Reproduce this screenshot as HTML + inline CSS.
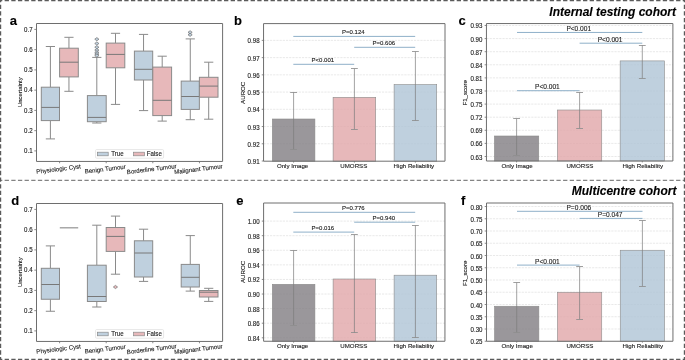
<!DOCTYPE html>
<html><head><meta charset="utf-8"><style>
html,body{margin:0;padding:0;background:#fff;}
svg{display:block;font-family:"Liberation Sans", sans-serif;will-change:transform;}
</style></head><body>
<svg width="685" height="360" viewBox="0 0 685 360">
<rect width="685" height="360" fill="#fff"/>
<line x1="34.30" y1="150.90" x2="36.50" y2="150.90" stroke="#6e6e6e" stroke-width="0.8"/>
<text x="0.00" y="0.00" font-size="6.15" text-anchor="end" font-weight="normal" font-style="normal" fill="#1c1c1c" stroke="#1c1c1c" stroke-width="0.12" transform="translate(32.60,153.00) scale(1,1.12)">0.1</text>
<line x1="34.30" y1="130.65" x2="36.50" y2="130.65" stroke="#6e6e6e" stroke-width="0.8"/>
<text x="0.00" y="0.00" font-size="6.15" text-anchor="end" font-weight="normal" font-style="normal" fill="#1c1c1c" stroke="#1c1c1c" stroke-width="0.12" transform="translate(32.60,132.75) scale(1,1.12)">0.2</text>
<line x1="34.30" y1="110.40" x2="36.50" y2="110.40" stroke="#6e6e6e" stroke-width="0.8"/>
<text x="0.00" y="0.00" font-size="6.15" text-anchor="end" font-weight="normal" font-style="normal" fill="#1c1c1c" stroke="#1c1c1c" stroke-width="0.12" transform="translate(32.60,112.50) scale(1,1.12)">0.3</text>
<line x1="34.30" y1="90.15" x2="36.50" y2="90.15" stroke="#6e6e6e" stroke-width="0.8"/>
<text x="0.00" y="0.00" font-size="6.15" text-anchor="end" font-weight="normal" font-style="normal" fill="#1c1c1c" stroke="#1c1c1c" stroke-width="0.12" transform="translate(32.60,92.25) scale(1,1.12)">0.4</text>
<line x1="34.30" y1="69.90" x2="36.50" y2="69.90" stroke="#6e6e6e" stroke-width="0.8"/>
<text x="0.00" y="0.00" font-size="6.15" text-anchor="end" font-weight="normal" font-style="normal" fill="#1c1c1c" stroke="#1c1c1c" stroke-width="0.12" transform="translate(32.60,72.00) scale(1,1.12)">0.5</text>
<line x1="34.30" y1="49.65" x2="36.50" y2="49.65" stroke="#6e6e6e" stroke-width="0.8"/>
<text x="0.00" y="0.00" font-size="6.15" text-anchor="end" font-weight="normal" font-style="normal" fill="#1c1c1c" stroke="#1c1c1c" stroke-width="0.12" transform="translate(32.60,51.75) scale(1,1.12)">0.6</text>
<line x1="34.30" y1="29.40" x2="36.50" y2="29.40" stroke="#6e6e6e" stroke-width="0.8"/>
<text x="0.00" y="0.00" font-size="6.15" text-anchor="end" font-weight="normal" font-style="normal" fill="#1c1c1c" stroke="#1c1c1c" stroke-width="0.12" transform="translate(32.60,31.50) scale(1,1.12)">0.7</text>
<line x1="50.40" y1="46.50" x2="50.40" y2="87.20" stroke="#8a8a8a" stroke-width="1.0"/>
<line x1="50.40" y1="120.60" x2="50.40" y2="138.90" stroke="#8a8a8a" stroke-width="1.0"/>
<line x1="45.80" y1="46.50" x2="55.00" y2="46.50" stroke="#8a8a8a" stroke-width="1.0"/>
<line x1="45.80" y1="138.90" x2="55.00" y2="138.90" stroke="#8a8a8a" stroke-width="1.0"/>
<rect x="41.30" y="87.20" width="18.20" height="33.40" fill="#bfd0de" stroke="#8a8a8a" stroke-width="1.0"/>
<line x1="41.30" y1="107.40" x2="59.50" y2="107.40" stroke="#787878" stroke-width="1.0"/>
<line x1="68.95" y1="37.30" x2="68.95" y2="48.20" stroke="#8a8a8a" stroke-width="1.0"/>
<line x1="68.95" y1="76.90" x2="68.95" y2="91.30" stroke="#8a8a8a" stroke-width="1.0"/>
<line x1="64.35" y1="37.30" x2="73.55" y2="37.30" stroke="#8a8a8a" stroke-width="1.0"/>
<line x1="64.35" y1="91.30" x2="73.55" y2="91.30" stroke="#8a8a8a" stroke-width="1.0"/>
<rect x="59.60" y="48.20" width="18.70" height="28.70" fill="#e7b8ba" stroke="#8a8a8a" stroke-width="1.0"/>
<line x1="59.60" y1="62.20" x2="78.30" y2="62.20" stroke="#787878" stroke-width="1.0"/>
<line x1="96.80" y1="57.40" x2="96.80" y2="95.60" stroke="#8a8a8a" stroke-width="1.0"/>
<line x1="96.80" y1="121.70" x2="96.80" y2="123.00" stroke="#8a8a8a" stroke-width="1.0"/>
<line x1="92.20" y1="57.40" x2="101.40" y2="57.40" stroke="#8a8a8a" stroke-width="1.0"/>
<line x1="92.20" y1="123.00" x2="101.40" y2="123.00" stroke="#8a8a8a" stroke-width="1.0"/>
<rect x="87.40" y="95.60" width="18.80" height="26.10" fill="#bfd0de" stroke="#8a8a8a" stroke-width="1.0"/>
<line x1="87.40" y1="117.40" x2="106.20" y2="117.40" stroke="#787878" stroke-width="1.0"/>
<line x1="115.50" y1="33.30" x2="115.50" y2="43.10" stroke="#8a8a8a" stroke-width="1.0"/>
<line x1="115.50" y1="67.80" x2="115.50" y2="104.40" stroke="#8a8a8a" stroke-width="1.0"/>
<line x1="110.90" y1="33.30" x2="120.10" y2="33.30" stroke="#8a8a8a" stroke-width="1.0"/>
<line x1="110.90" y1="104.40" x2="120.10" y2="104.40" stroke="#8a8a8a" stroke-width="1.0"/>
<rect x="106.20" y="43.10" width="18.60" height="24.70" fill="#e7b8ba" stroke="#8a8a8a" stroke-width="1.0"/>
<line x1="106.20" y1="54.40" x2="124.80" y2="54.40" stroke="#787878" stroke-width="1.0"/>
<line x1="143.55" y1="34.40" x2="143.55" y2="51.10" stroke="#8a8a8a" stroke-width="1.0"/>
<line x1="143.55" y1="80.00" x2="143.55" y2="110.60" stroke="#8a8a8a" stroke-width="1.0"/>
<line x1="138.95" y1="34.40" x2="148.15" y2="34.40" stroke="#8a8a8a" stroke-width="1.0"/>
<line x1="138.95" y1="110.60" x2="148.15" y2="110.60" stroke="#8a8a8a" stroke-width="1.0"/>
<rect x="134.40" y="51.10" width="18.30" height="28.90" fill="#bfd0de" stroke="#8a8a8a" stroke-width="1.0"/>
<line x1="134.40" y1="69.30" x2="152.70" y2="69.30" stroke="#787878" stroke-width="1.0"/>
<line x1="162.20" y1="56.20" x2="162.20" y2="67.10" stroke="#8a8a8a" stroke-width="1.0"/>
<line x1="162.20" y1="115.60" x2="162.20" y2="121.10" stroke="#8a8a8a" stroke-width="1.0"/>
<line x1="157.60" y1="56.20" x2="166.80" y2="56.20" stroke="#8a8a8a" stroke-width="1.0"/>
<line x1="157.60" y1="121.10" x2="166.80" y2="121.10" stroke="#8a8a8a" stroke-width="1.0"/>
<rect x="152.80" y="67.10" width="18.80" height="48.50" fill="#e7b8ba" stroke="#8a8a8a" stroke-width="1.0"/>
<line x1="152.80" y1="100.30" x2="171.60" y2="100.30" stroke="#787878" stroke-width="1.0"/>
<line x1="190.27" y1="38.90" x2="190.27" y2="81.10" stroke="#8a8a8a" stroke-width="1.0"/>
<line x1="190.27" y1="109.40" x2="190.27" y2="119.70" stroke="#8a8a8a" stroke-width="1.0"/>
<line x1="185.67" y1="38.90" x2="194.87" y2="38.90" stroke="#8a8a8a" stroke-width="1.0"/>
<line x1="185.67" y1="119.70" x2="194.87" y2="119.70" stroke="#8a8a8a" stroke-width="1.0"/>
<rect x="181.20" y="81.10" width="18.15" height="28.30" fill="#bfd0de" stroke="#8a8a8a" stroke-width="1.0"/>
<line x1="181.20" y1="96.50" x2="199.35" y2="96.50" stroke="#787878" stroke-width="1.0"/>
<line x1="208.70" y1="62.20" x2="208.70" y2="77.30" stroke="#8a8a8a" stroke-width="1.0"/>
<line x1="208.70" y1="97.20" x2="208.70" y2="119.20" stroke="#8a8a8a" stroke-width="1.0"/>
<line x1="204.10" y1="62.20" x2="213.30" y2="62.20" stroke="#8a8a8a" stroke-width="1.0"/>
<line x1="204.10" y1="119.20" x2="213.30" y2="119.20" stroke="#8a8a8a" stroke-width="1.0"/>
<rect x="199.40" y="77.30" width="18.60" height="19.90" fill="#e7b8ba" stroke="#8a8a8a" stroke-width="1.0"/>
<line x1="199.40" y1="86.10" x2="218.00" y2="86.10" stroke="#787878" stroke-width="1.0"/>
<path d="M96.85 37.60 L98.95 39.20 L96.85 40.80 L94.75 39.20 Z" fill="#bfd0de" stroke="#6e6e6e" stroke-width="0.7"/>
<path d="M96.85 41.90 L98.95 43.50 L96.85 45.10 L94.75 43.50 Z" fill="#bfd0de" stroke="#6e6e6e" stroke-width="0.7"/>
<path d="M96.85 45.60 L98.95 47.20 L96.85 48.80 L94.75 47.20 Z" fill="#bfd0de" stroke="#6e6e6e" stroke-width="0.7"/>
<path d="M96.85 48.50 L98.95 50.10 L96.85 51.70 L94.75 50.10 Z" fill="#bfd0de" stroke="#6e6e6e" stroke-width="0.7"/>
<path d="M96.85 50.80 L98.95 52.40 L96.85 54.00 L94.75 52.40 Z" fill="#bfd0de" stroke="#6e6e6e" stroke-width="0.7"/>
<path d="M96.85 52.50 L98.95 54.10 L96.85 55.70 L94.75 54.10 Z" fill="#bfd0de" stroke="#6e6e6e" stroke-width="0.7"/>
<path d="M96.85 54.00 L98.95 55.60 L96.85 57.20 L94.75 55.60 Z" fill="#bfd0de" stroke="#6e6e6e" stroke-width="0.7"/>
<path d="M190.10 30.70 L192.20 32.30 L190.10 33.90 L188.00 32.30 Z" fill="#bfd0de" stroke="#6e6e6e" stroke-width="0.7"/>
<path d="M190.10 33.20 L192.20 34.80 L190.10 36.40 L188.00 34.80 Z" fill="#bfd0de" stroke="#6e6e6e" stroke-width="0.7"/>
<path d="M36.50 23.50 H222.60 V161.45 H36.50 Z" fill="none" stroke="#6e6e6e" stroke-width="1.0"/>
<line x1="59.60" y1="161.45" x2="59.60" y2="163.25" stroke="#6e6e6e" stroke-width="0.8"/>
<text x="0.00" y="0.00" font-size="6.1" text-anchor="middle" font-weight="normal" font-style="normal" fill="#1c1c1c" stroke="#1c1c1c" stroke-width="0.12" transform="translate(58.80,171.10) rotate(-7)">Physiologic Cyst</text>
<line x1="106.20" y1="161.45" x2="106.20" y2="163.25" stroke="#6e6e6e" stroke-width="0.8"/>
<text x="0.00" y="0.00" font-size="6.1" text-anchor="middle" font-weight="normal" font-style="normal" fill="#1c1c1c" stroke="#1c1c1c" stroke-width="0.12" transform="translate(105.40,171.10) rotate(-7)">Benign Tumour</text>
<line x1="152.80" y1="161.45" x2="152.80" y2="163.25" stroke="#6e6e6e" stroke-width="0.8"/>
<text x="0.00" y="0.00" font-size="6.1" text-anchor="middle" font-weight="normal" font-style="normal" fill="#1c1c1c" stroke="#1c1c1c" stroke-width="0.12" transform="translate(152.00,171.10) rotate(-7)">Borderline Tumour</text>
<line x1="199.45" y1="161.45" x2="199.45" y2="163.25" stroke="#6e6e6e" stroke-width="0.8"/>
<text x="0.00" y="0.00" font-size="6.1" text-anchor="middle" font-weight="normal" font-style="normal" fill="#1c1c1c" stroke="#1c1c1c" stroke-width="0.12" transform="translate(198.65,171.10) rotate(-7)">Malignant Tumour</text>
<text x="0.00" y="0.00" font-size="5.9" text-anchor="middle" font-weight="normal" font-style="normal" fill="#1c1c1c" stroke="#1c1c1c" stroke-width="0.12" transform="translate(21.70,92.20) rotate(-90)">Uncertainty</text>
<rect x="95.6" y="149.60" width="68" height="8.6" fill="#fff" stroke="#dcdcdc" stroke-width="0.7" rx="1"/>
<rect x="97.40" y="152.20" width="10.80" height="3.60" fill="#bfd0de" stroke="#8a8a8a" stroke-width="0.7"/>
<text x="0.00" y="0.00" font-size="6.15" text-anchor="start" font-weight="normal" font-style="normal" fill="#1c1c1c" stroke="#1c1c1c" stroke-width="0.12" transform="translate(111.2,156.00) scale(1,1.12)">True</text>
<rect x="133.60" y="152.20" width="10.80" height="3.60" fill="#e7b8ba" stroke="#8a8a8a" stroke-width="0.7"/>
<text x="0.00" y="0.00" font-size="6.15" text-anchor="start" font-weight="normal" font-style="normal" fill="#1c1c1c" stroke="#1c1c1c" stroke-width="0.12" transform="translate(146.8,156.00) scale(1,1.12)">False</text>
<line x1="34.30" y1="330.90" x2="36.50" y2="330.90" stroke="#6e6e6e" stroke-width="0.8"/>
<text x="0.00" y="0.00" font-size="6.15" text-anchor="end" font-weight="normal" font-style="normal" fill="#1c1c1c" stroke="#1c1c1c" stroke-width="0.12" transform="translate(32.60,333.00) scale(1,1.12)">0.1</text>
<line x1="34.30" y1="310.65" x2="36.50" y2="310.65" stroke="#6e6e6e" stroke-width="0.8"/>
<text x="0.00" y="0.00" font-size="6.15" text-anchor="end" font-weight="normal" font-style="normal" fill="#1c1c1c" stroke="#1c1c1c" stroke-width="0.12" transform="translate(32.60,312.75) scale(1,1.12)">0.2</text>
<line x1="34.30" y1="290.40" x2="36.50" y2="290.40" stroke="#6e6e6e" stroke-width="0.8"/>
<text x="0.00" y="0.00" font-size="6.15" text-anchor="end" font-weight="normal" font-style="normal" fill="#1c1c1c" stroke="#1c1c1c" stroke-width="0.12" transform="translate(32.60,292.50) scale(1,1.12)">0.3</text>
<line x1="34.30" y1="270.15" x2="36.50" y2="270.15" stroke="#6e6e6e" stroke-width="0.8"/>
<text x="0.00" y="0.00" font-size="6.15" text-anchor="end" font-weight="normal" font-style="normal" fill="#1c1c1c" stroke="#1c1c1c" stroke-width="0.12" transform="translate(32.60,272.25) scale(1,1.12)">0.4</text>
<line x1="34.30" y1="249.90" x2="36.50" y2="249.90" stroke="#6e6e6e" stroke-width="0.8"/>
<text x="0.00" y="0.00" font-size="6.15" text-anchor="end" font-weight="normal" font-style="normal" fill="#1c1c1c" stroke="#1c1c1c" stroke-width="0.12" transform="translate(32.60,252.00) scale(1,1.12)">0.5</text>
<line x1="34.30" y1="229.65" x2="36.50" y2="229.65" stroke="#6e6e6e" stroke-width="0.8"/>
<text x="0.00" y="0.00" font-size="6.15" text-anchor="end" font-weight="normal" font-style="normal" fill="#1c1c1c" stroke="#1c1c1c" stroke-width="0.12" transform="translate(32.60,231.75) scale(1,1.12)">0.6</text>
<line x1="34.30" y1="209.40" x2="36.50" y2="209.40" stroke="#6e6e6e" stroke-width="0.8"/>
<text x="0.00" y="0.00" font-size="6.15" text-anchor="end" font-weight="normal" font-style="normal" fill="#1c1c1c" stroke="#1c1c1c" stroke-width="0.12" transform="translate(32.60,211.50) scale(1,1.12)">0.7</text>
<line x1="50.40" y1="245.90" x2="50.40" y2="268.30" stroke="#8a8a8a" stroke-width="1.0"/>
<line x1="50.40" y1="299.25" x2="50.40" y2="311.25" stroke="#8a8a8a" stroke-width="1.0"/>
<line x1="45.80" y1="245.90" x2="55.00" y2="245.90" stroke="#8a8a8a" stroke-width="1.0"/>
<line x1="45.80" y1="311.25" x2="55.00" y2="311.25" stroke="#8a8a8a" stroke-width="1.0"/>
<rect x="41.30" y="268.30" width="18.20" height="30.95" fill="#bfd0de" stroke="#8a8a8a" stroke-width="1.0"/>
<line x1="41.30" y1="284.50" x2="59.50" y2="284.50" stroke="#787878" stroke-width="1.0"/>
<line x1="96.80" y1="225.20" x2="96.80" y2="265.20" stroke="#8a8a8a" stroke-width="1.0"/>
<line x1="96.80" y1="301.50" x2="96.80" y2="307.00" stroke="#8a8a8a" stroke-width="1.0"/>
<line x1="92.20" y1="225.20" x2="101.40" y2="225.20" stroke="#8a8a8a" stroke-width="1.0"/>
<line x1="92.20" y1="307.00" x2="101.40" y2="307.00" stroke="#8a8a8a" stroke-width="1.0"/>
<rect x="87.40" y="265.20" width="18.80" height="36.30" fill="#bfd0de" stroke="#8a8a8a" stroke-width="1.0"/>
<line x1="87.40" y1="296.50" x2="106.20" y2="296.50" stroke="#787878" stroke-width="1.0"/>
<line x1="115.50" y1="216.10" x2="115.50" y2="227.50" stroke="#8a8a8a" stroke-width="1.0"/>
<line x1="115.50" y1="251.40" x2="115.50" y2="274.20" stroke="#8a8a8a" stroke-width="1.0"/>
<line x1="110.90" y1="216.10" x2="120.10" y2="216.10" stroke="#8a8a8a" stroke-width="1.0"/>
<line x1="110.90" y1="274.20" x2="120.10" y2="274.20" stroke="#8a8a8a" stroke-width="1.0"/>
<rect x="106.20" y="227.50" width="18.60" height="23.90" fill="#e7b8ba" stroke="#8a8a8a" stroke-width="1.0"/>
<line x1="106.20" y1="236.40" x2="124.80" y2="236.40" stroke="#787878" stroke-width="1.0"/>
<line x1="143.55" y1="229.20" x2="143.55" y2="240.80" stroke="#8a8a8a" stroke-width="1.0"/>
<line x1="143.55" y1="277.00" x2="143.55" y2="281.40" stroke="#8a8a8a" stroke-width="1.0"/>
<line x1="138.95" y1="229.20" x2="148.15" y2="229.20" stroke="#8a8a8a" stroke-width="1.0"/>
<line x1="138.95" y1="281.40" x2="148.15" y2="281.40" stroke="#8a8a8a" stroke-width="1.0"/>
<rect x="134.40" y="240.80" width="18.30" height="36.20" fill="#bfd0de" stroke="#8a8a8a" stroke-width="1.0"/>
<line x1="134.40" y1="253.00" x2="152.70" y2="253.00" stroke="#787878" stroke-width="1.0"/>
<line x1="190.27" y1="235.60" x2="190.27" y2="264.40" stroke="#8a8a8a" stroke-width="1.0"/>
<line x1="190.27" y1="287.00" x2="190.27" y2="291.10" stroke="#8a8a8a" stroke-width="1.0"/>
<line x1="185.67" y1="235.60" x2="194.87" y2="235.60" stroke="#8a8a8a" stroke-width="1.0"/>
<line x1="185.67" y1="291.10" x2="194.87" y2="291.10" stroke="#8a8a8a" stroke-width="1.0"/>
<rect x="181.20" y="264.40" width="18.15" height="22.60" fill="#bfd0de" stroke="#8a8a8a" stroke-width="1.0"/>
<line x1="181.20" y1="277.30" x2="199.35" y2="277.30" stroke="#787878" stroke-width="1.0"/>
<line x1="208.70" y1="288.30" x2="208.70" y2="290.50" stroke="#8a8a8a" stroke-width="1.0"/>
<line x1="208.70" y1="297.00" x2="208.70" y2="301.40" stroke="#8a8a8a" stroke-width="1.0"/>
<line x1="204.10" y1="288.30" x2="213.30" y2="288.30" stroke="#8a8a8a" stroke-width="1.0"/>
<line x1="204.10" y1="301.40" x2="213.30" y2="301.40" stroke="#8a8a8a" stroke-width="1.0"/>
<rect x="199.40" y="290.50" width="18.60" height="6.50" fill="#e7b8ba" stroke="#8a8a8a" stroke-width="1.0"/>
<line x1="199.40" y1="292.20" x2="218.00" y2="292.20" stroke="#787878" stroke-width="1.0"/>
<path d="M115.45 285.40 L117.55 287.00 L115.45 288.60 L113.35 287.00 Z" fill="#e7b8ba" stroke="#6e6e6e" stroke-width="0.7"/>
<path d="M36.50 203.50 H222.60 V341.45 H36.50 Z" fill="none" stroke="#6e6e6e" stroke-width="1.0"/>
<line x1="59.60" y1="341.45" x2="59.60" y2="343.25" stroke="#6e6e6e" stroke-width="0.8"/>
<text x="0.00" y="0.00" font-size="6.1" text-anchor="middle" font-weight="normal" font-style="normal" fill="#1c1c1c" stroke="#1c1c1c" stroke-width="0.12" transform="translate(58.80,351.10) rotate(-7)">Physiologic Cyst</text>
<line x1="106.20" y1="341.45" x2="106.20" y2="343.25" stroke="#6e6e6e" stroke-width="0.8"/>
<text x="0.00" y="0.00" font-size="6.1" text-anchor="middle" font-weight="normal" font-style="normal" fill="#1c1c1c" stroke="#1c1c1c" stroke-width="0.12" transform="translate(105.40,351.10) rotate(-7)">Benign Tumour</text>
<line x1="152.80" y1="341.45" x2="152.80" y2="343.25" stroke="#6e6e6e" stroke-width="0.8"/>
<text x="0.00" y="0.00" font-size="6.1" text-anchor="middle" font-weight="normal" font-style="normal" fill="#1c1c1c" stroke="#1c1c1c" stroke-width="0.12" transform="translate(152.00,351.10) rotate(-7)">Borderline Tumour</text>
<line x1="199.45" y1="341.45" x2="199.45" y2="343.25" stroke="#6e6e6e" stroke-width="0.8"/>
<text x="0.00" y="0.00" font-size="6.1" text-anchor="middle" font-weight="normal" font-style="normal" fill="#1c1c1c" stroke="#1c1c1c" stroke-width="0.12" transform="translate(198.65,351.10) rotate(-7)">Malignant Tumour</text>
<text x="0.00" y="0.00" font-size="5.9" text-anchor="middle" font-weight="normal" font-style="normal" fill="#1c1c1c" stroke="#1c1c1c" stroke-width="0.12" transform="translate(21.70,272.20) rotate(-90)">Uncertainty</text>
<rect x="95.6" y="329.60" width="68" height="8.6" fill="#fff" stroke="#dcdcdc" stroke-width="0.7" rx="1"/>
<rect x="97.40" y="332.20" width="10.80" height="3.60" fill="#bfd0de" stroke="#8a8a8a" stroke-width="0.7"/>
<text x="0.00" y="0.00" font-size="6.15" text-anchor="start" font-weight="normal" font-style="normal" fill="#1c1c1c" stroke="#1c1c1c" stroke-width="0.12" transform="translate(111.2,336.00) scale(1,1.12)">True</text>
<rect x="133.60" y="332.20" width="10.80" height="3.60" fill="#e7b8ba" stroke="#8a8a8a" stroke-width="0.7"/>
<text x="0.00" y="0.00" font-size="6.15" text-anchor="start" font-weight="normal" font-style="normal" fill="#1c1c1c" stroke="#1c1c1c" stroke-width="0.12" transform="translate(146.8,336.00) scale(1,1.12)">False</text>
<line x1="59.80" y1="227.80" x2="78.20" y2="227.80" stroke="#9a9a9a" stroke-width="1.3"/>
<line x1="263.55" y1="143.77" x2="445.00" y2="143.77" stroke="#dadada" stroke-width="0.6" stroke-dasharray="2.2 1.0"/>
<line x1="263.55" y1="126.54" x2="445.00" y2="126.54" stroke="#dadada" stroke-width="0.6" stroke-dasharray="2.2 1.0"/>
<line x1="263.55" y1="109.31" x2="445.00" y2="109.31" stroke="#dadada" stroke-width="0.6" stroke-dasharray="2.2 1.0"/>
<line x1="263.55" y1="92.08" x2="445.00" y2="92.08" stroke="#dadada" stroke-width="0.6" stroke-dasharray="2.2 1.0"/>
<line x1="263.55" y1="74.85" x2="445.00" y2="74.85" stroke="#dadada" stroke-width="0.6" stroke-dasharray="2.2 1.0"/>
<line x1="263.55" y1="57.62" x2="445.00" y2="57.62" stroke="#dadada" stroke-width="0.6" stroke-dasharray="2.2 1.0"/>
<line x1="263.55" y1="40.39" x2="445.00" y2="40.39" stroke="#dadada" stroke-width="0.6" stroke-dasharray="2.2 1.0"/>
<rect x="272.30" y="119.00" width="42.60" height="42.20" fill="#817d82" fill-opacity="0.8" stroke="#8a8a8a" stroke-width="0.6"/>
<rect x="333.10" y="97.30" width="42.60" height="63.90" fill="#e1a6a9" fill-opacity="0.8" stroke="#8a8a8a" stroke-width="0.6"/>
<rect x="394.10" y="84.60" width="42.60" height="76.60" fill="#afc4d6" fill-opacity="0.8" stroke="#8a8a8a" stroke-width="0.6"/>
<line x1="293.60" y1="92.10" x2="293.60" y2="149.40" stroke="#7c7c7c" stroke-width="0.7"/>
<line x1="290.20" y1="92.50" x2="297.00" y2="92.50" stroke="#8e8e8e" stroke-width="0.85"/>
<line x1="290.20" y1="149.50" x2="297.00" y2="149.50" stroke="#8e8e8e" stroke-width="0.85"/>
<line x1="354.40" y1="68.40" x2="354.40" y2="129.40" stroke="#7c7c7c" stroke-width="0.7"/>
<line x1="351.00" y1="68.50" x2="357.80" y2="68.50" stroke="#8e8e8e" stroke-width="0.85"/>
<line x1="351.00" y1="129.50" x2="357.80" y2="129.50" stroke="#8e8e8e" stroke-width="0.85"/>
<line x1="415.40" y1="51.60" x2="415.40" y2="120.70" stroke="#7c7c7c" stroke-width="0.7"/>
<line x1="412.00" y1="51.50" x2="418.80" y2="51.50" stroke="#8e8e8e" stroke-width="0.85"/>
<line x1="412.00" y1="120.50" x2="418.80" y2="120.50" stroke="#8e8e8e" stroke-width="0.85"/>
<line x1="293.30" y1="36.40" x2="415.20" y2="36.40" stroke="#8fb0c9" stroke-width="1.0"/>
<text x="353.35" y="34.10" font-size="6.0" text-anchor="middle" font-weight="normal" font-style="normal" fill="#1c1c1c" stroke="#1c1c1c" stroke-width="0.12">P=0.124</text>
<line x1="354.20" y1="47.30" x2="415.20" y2="47.30" stroke="#8fb0c9" stroke-width="1.0"/>
<text x="383.80" y="45.00" font-size="6.0" text-anchor="middle" font-weight="normal" font-style="normal" fill="#1c1c1c" stroke="#1c1c1c" stroke-width="0.12">P=0.606</text>
<line x1="293.30" y1="64.30" x2="354.20" y2="64.30" stroke="#8fb0c9" stroke-width="1.0"/>
<text x="322.85" y="62.00" font-size="6.0" text-anchor="middle" font-weight="normal" font-style="normal" fill="#1c1c1c" stroke="#1c1c1c" stroke-width="0.12">P&lt;0.001</text>
<path d="M263.55 23.60 H445.00 V161.20 H263.55 Z" fill="none" stroke="#6e6e6e" stroke-width="1.0"/>
<line x1="261.75" y1="161.00" x2="263.55" y2="161.00" stroke="#6e6e6e" stroke-width="0.8"/>
<text x="0.00" y="0.00" font-size="6.15" text-anchor="end" font-weight="normal" font-style="normal" fill="#1c1c1c" stroke="#1c1c1c" stroke-width="0.12" transform="translate(259.55,164.00) scale(1,1.12)">0.91</text>
<line x1="261.75" y1="143.77" x2="263.55" y2="143.77" stroke="#6e6e6e" stroke-width="0.8"/>
<text x="0.00" y="0.00" font-size="6.15" text-anchor="end" font-weight="normal" font-style="normal" fill="#1c1c1c" stroke="#1c1c1c" stroke-width="0.12" transform="translate(259.55,146.77) scale(1,1.12)">0.92</text>
<line x1="261.75" y1="126.54" x2="263.55" y2="126.54" stroke="#6e6e6e" stroke-width="0.8"/>
<text x="0.00" y="0.00" font-size="6.15" text-anchor="end" font-weight="normal" font-style="normal" fill="#1c1c1c" stroke="#1c1c1c" stroke-width="0.12" transform="translate(259.55,129.54) scale(1,1.12)">0.93</text>
<line x1="261.75" y1="109.31" x2="263.55" y2="109.31" stroke="#6e6e6e" stroke-width="0.8"/>
<text x="0.00" y="0.00" font-size="6.15" text-anchor="end" font-weight="normal" font-style="normal" fill="#1c1c1c" stroke="#1c1c1c" stroke-width="0.12" transform="translate(259.55,112.31) scale(1,1.12)">0.94</text>
<line x1="261.75" y1="92.08" x2="263.55" y2="92.08" stroke="#6e6e6e" stroke-width="0.8"/>
<text x="0.00" y="0.00" font-size="6.15" text-anchor="end" font-weight="normal" font-style="normal" fill="#1c1c1c" stroke="#1c1c1c" stroke-width="0.12" transform="translate(259.55,95.08) scale(1,1.12)">0.95</text>
<line x1="261.75" y1="74.85" x2="263.55" y2="74.85" stroke="#6e6e6e" stroke-width="0.8"/>
<text x="0.00" y="0.00" font-size="6.15" text-anchor="end" font-weight="normal" font-style="normal" fill="#1c1c1c" stroke="#1c1c1c" stroke-width="0.12" transform="translate(259.55,77.85) scale(1,1.12)">0.96</text>
<line x1="261.75" y1="57.62" x2="263.55" y2="57.62" stroke="#6e6e6e" stroke-width="0.8"/>
<text x="0.00" y="0.00" font-size="6.15" text-anchor="end" font-weight="normal" font-style="normal" fill="#1c1c1c" stroke="#1c1c1c" stroke-width="0.12" transform="translate(259.55,60.62) scale(1,1.12)">0.97</text>
<line x1="261.75" y1="40.39" x2="263.55" y2="40.39" stroke="#6e6e6e" stroke-width="0.8"/>
<text x="0.00" y="0.00" font-size="6.15" text-anchor="end" font-weight="normal" font-style="normal" fill="#1c1c1c" stroke="#1c1c1c" stroke-width="0.12" transform="translate(259.55,43.39) scale(1,1.12)">0.98</text>
<line x1="293.60" y1="161.20" x2="293.60" y2="162.60" stroke="#6e6e6e" stroke-width="0.8"/>
<text x="292.60" y="168.20" font-size="6.15" text-anchor="middle" font-weight="normal" font-style="normal" fill="#1c1c1c" stroke="#1c1c1c" stroke-width="0.12">Only Image</text>
<line x1="354.40" y1="161.20" x2="354.40" y2="162.60" stroke="#6e6e6e" stroke-width="0.8"/>
<text x="353.80" y="168.20" font-size="6.15" text-anchor="middle" font-weight="normal" font-style="normal" fill="#1c1c1c" stroke="#1c1c1c" stroke-width="0.12">UMORSS</text>
<line x1="415.40" y1="161.20" x2="415.40" y2="162.60" stroke="#6e6e6e" stroke-width="0.8"/>
<text x="413.90" y="168.20" font-size="6.15" text-anchor="middle" font-weight="normal" font-style="normal" fill="#1c1c1c" stroke="#1c1c1c" stroke-width="0.12">High Reliability</text>
<text x="0.00" y="0.00" font-size="6.15" text-anchor="middle" font-weight="normal" font-style="normal" fill="#1c1c1c" stroke="#1c1c1c" stroke-width="0.12" transform="translate(245.4,92.8) rotate(-90)">AUROC</text>
<line x1="486.45" y1="156.50" x2="672.90" y2="156.50" stroke="#dadada" stroke-width="0.6" stroke-dasharray="2.2 1.0"/>
<line x1="486.45" y1="143.40" x2="672.90" y2="143.40" stroke="#dadada" stroke-width="0.6" stroke-dasharray="2.2 1.0"/>
<line x1="486.45" y1="130.30" x2="672.90" y2="130.30" stroke="#dadada" stroke-width="0.6" stroke-dasharray="2.2 1.0"/>
<line x1="486.45" y1="117.20" x2="672.90" y2="117.20" stroke="#dadada" stroke-width="0.6" stroke-dasharray="2.2 1.0"/>
<line x1="486.45" y1="104.10" x2="672.90" y2="104.10" stroke="#dadada" stroke-width="0.6" stroke-dasharray="2.2 1.0"/>
<line x1="486.45" y1="90.99" x2="672.90" y2="90.99" stroke="#dadada" stroke-width="0.6" stroke-dasharray="2.2 1.0"/>
<line x1="486.45" y1="77.89" x2="672.90" y2="77.89" stroke="#dadada" stroke-width="0.6" stroke-dasharray="2.2 1.0"/>
<line x1="486.45" y1="64.79" x2="672.90" y2="64.79" stroke="#dadada" stroke-width="0.6" stroke-dasharray="2.2 1.0"/>
<line x1="486.45" y1="51.69" x2="672.90" y2="51.69" stroke="#dadada" stroke-width="0.6" stroke-dasharray="2.2 1.0"/>
<line x1="486.45" y1="38.59" x2="672.90" y2="38.59" stroke="#dadada" stroke-width="0.6" stroke-dasharray="2.2 1.0"/>
<line x1="486.45" y1="25.49" x2="672.90" y2="25.49" stroke="#dadada" stroke-width="0.6" stroke-dasharray="2.2 1.0"/>
<rect x="494.45" y="136.00" width="44.30" height="25.00" fill="#817d82" fill-opacity="0.8" stroke="#8a8a8a" stroke-width="0.6"/>
<rect x="557.45" y="110.00" width="44.30" height="51.00" fill="#e1a6a9" fill-opacity="0.8" stroke="#8a8a8a" stroke-width="0.6"/>
<rect x="620.15" y="60.90" width="44.30" height="100.10" fill="#afc4d6" fill-opacity="0.8" stroke="#8a8a8a" stroke-width="0.6"/>
<line x1="516.60" y1="118.50" x2="516.60" y2="155.20" stroke="#7c7c7c" stroke-width="0.7"/>
<line x1="513.20" y1="118.50" x2="520.00" y2="118.50" stroke="#8e8e8e" stroke-width="0.85"/>
<line x1="513.20" y1="155.50" x2="520.00" y2="155.50" stroke="#8e8e8e" stroke-width="0.85"/>
<line x1="579.60" y1="92.20" x2="579.60" y2="128.30" stroke="#7c7c7c" stroke-width="0.7"/>
<line x1="576.20" y1="92.50" x2="583.00" y2="92.50" stroke="#8e8e8e" stroke-width="0.85"/>
<line x1="576.20" y1="128.50" x2="583.00" y2="128.50" stroke="#8e8e8e" stroke-width="0.85"/>
<line x1="642.30" y1="45.10" x2="642.30" y2="78.20" stroke="#7c7c7c" stroke-width="0.7"/>
<line x1="638.90" y1="45.50" x2="645.70" y2="45.50" stroke="#8e8e8e" stroke-width="0.85"/>
<line x1="638.90" y1="78.50" x2="645.70" y2="78.50" stroke="#8e8e8e" stroke-width="0.85"/>
<line x1="517.00" y1="32.45" x2="642.30" y2="32.45" stroke="#8fb0c9" stroke-width="1.0"/>
<text x="578.75" y="31.15" font-size="6.6" text-anchor="middle" font-weight="normal" font-style="normal" fill="#1c1c1c" stroke="#1c1c1c" stroke-width="0.12">P&lt;0.001</text>
<line x1="579.60" y1="43.20" x2="642.30" y2="43.20" stroke="#8fb0c9" stroke-width="1.0"/>
<text x="610.05" y="41.90" font-size="6.6" text-anchor="middle" font-weight="normal" font-style="normal" fill="#1c1c1c" stroke="#1c1c1c" stroke-width="0.12">P&lt;0.001</text>
<line x1="517.00" y1="90.70" x2="579.60" y2="90.70" stroke="#8fb0c9" stroke-width="1.0"/>
<text x="547.40" y="89.40" font-size="6.6" text-anchor="middle" font-weight="normal" font-style="normal" fill="#1c1c1c" stroke="#1c1c1c" stroke-width="0.12">P&lt;0.001</text>
<path d="M486.45 23.55 H672.90 V161.00 H486.45 Z" fill="none" stroke="#6e6e6e" stroke-width="1.0"/>
<line x1="484.65" y1="156.50" x2="486.45" y2="156.50" stroke="#6e6e6e" stroke-width="0.8"/>
<text x="0.00" y="0.00" font-size="6.15" text-anchor="end" font-weight="normal" font-style="normal" fill="#1c1c1c" stroke="#1c1c1c" stroke-width="0.12" transform="translate(482.45,159.50) scale(1,1.12)">0.63</text>
<line x1="484.65" y1="143.40" x2="486.45" y2="143.40" stroke="#6e6e6e" stroke-width="0.8"/>
<text x="0.00" y="0.00" font-size="6.15" text-anchor="end" font-weight="normal" font-style="normal" fill="#1c1c1c" stroke="#1c1c1c" stroke-width="0.12" transform="translate(482.45,146.40) scale(1,1.12)">0.66</text>
<line x1="484.65" y1="130.30" x2="486.45" y2="130.30" stroke="#6e6e6e" stroke-width="0.8"/>
<text x="0.00" y="0.00" font-size="6.15" text-anchor="end" font-weight="normal" font-style="normal" fill="#1c1c1c" stroke="#1c1c1c" stroke-width="0.12" transform="translate(482.45,133.30) scale(1,1.12)">0.69</text>
<line x1="484.65" y1="117.20" x2="486.45" y2="117.20" stroke="#6e6e6e" stroke-width="0.8"/>
<text x="0.00" y="0.00" font-size="6.15" text-anchor="end" font-weight="normal" font-style="normal" fill="#1c1c1c" stroke="#1c1c1c" stroke-width="0.12" transform="translate(482.45,120.20) scale(1,1.12)">0.72</text>
<line x1="484.65" y1="104.10" x2="486.45" y2="104.10" stroke="#6e6e6e" stroke-width="0.8"/>
<text x="0.00" y="0.00" font-size="6.15" text-anchor="end" font-weight="normal" font-style="normal" fill="#1c1c1c" stroke="#1c1c1c" stroke-width="0.12" transform="translate(482.45,107.10) scale(1,1.12)">0.75</text>
<line x1="484.65" y1="90.99" x2="486.45" y2="90.99" stroke="#6e6e6e" stroke-width="0.8"/>
<text x="0.00" y="0.00" font-size="6.15" text-anchor="end" font-weight="normal" font-style="normal" fill="#1c1c1c" stroke="#1c1c1c" stroke-width="0.12" transform="translate(482.45,93.99) scale(1,1.12)">0.78</text>
<line x1="484.65" y1="77.89" x2="486.45" y2="77.89" stroke="#6e6e6e" stroke-width="0.8"/>
<text x="0.00" y="0.00" font-size="6.15" text-anchor="end" font-weight="normal" font-style="normal" fill="#1c1c1c" stroke="#1c1c1c" stroke-width="0.12" transform="translate(482.45,80.89) scale(1,1.12)">0.81</text>
<line x1="484.65" y1="64.79" x2="486.45" y2="64.79" stroke="#6e6e6e" stroke-width="0.8"/>
<text x="0.00" y="0.00" font-size="6.15" text-anchor="end" font-weight="normal" font-style="normal" fill="#1c1c1c" stroke="#1c1c1c" stroke-width="0.12" transform="translate(482.45,67.79) scale(1,1.12)">0.84</text>
<line x1="484.65" y1="51.69" x2="486.45" y2="51.69" stroke="#6e6e6e" stroke-width="0.8"/>
<text x="0.00" y="0.00" font-size="6.15" text-anchor="end" font-weight="normal" font-style="normal" fill="#1c1c1c" stroke="#1c1c1c" stroke-width="0.12" transform="translate(482.45,54.69) scale(1,1.12)">0.87</text>
<line x1="484.65" y1="38.59" x2="486.45" y2="38.59" stroke="#6e6e6e" stroke-width="0.8"/>
<text x="0.00" y="0.00" font-size="6.15" text-anchor="end" font-weight="normal" font-style="normal" fill="#1c1c1c" stroke="#1c1c1c" stroke-width="0.12" transform="translate(482.45,41.59) scale(1,1.12)">0.90</text>
<line x1="484.65" y1="25.49" x2="486.45" y2="25.49" stroke="#6e6e6e" stroke-width="0.8"/>
<text x="0.00" y="0.00" font-size="6.15" text-anchor="end" font-weight="normal" font-style="normal" fill="#1c1c1c" stroke="#1c1c1c" stroke-width="0.12" transform="translate(482.45,28.49) scale(1,1.12)">0.93</text>
<line x1="516.60" y1="161.00" x2="516.60" y2="162.40" stroke="#6e6e6e" stroke-width="0.8"/>
<text x="517.10" y="168.00" font-size="6.15" text-anchor="middle" font-weight="normal" font-style="normal" fill="#1c1c1c" stroke="#1c1c1c" stroke-width="0.12">Only Image</text>
<line x1="579.60" y1="161.00" x2="579.60" y2="162.40" stroke="#6e6e6e" stroke-width="0.8"/>
<text x="579.90" y="168.00" font-size="6.15" text-anchor="middle" font-weight="normal" font-style="normal" fill="#1c1c1c" stroke="#1c1c1c" stroke-width="0.12">UMORSS</text>
<line x1="642.30" y1="161.00" x2="642.30" y2="162.40" stroke="#6e6e6e" stroke-width="0.8"/>
<text x="642.70" y="168.00" font-size="6.15" text-anchor="middle" font-weight="normal" font-style="normal" fill="#1c1c1c" stroke="#1c1c1c" stroke-width="0.12">High Reliability</text>
<text x="0.00" y="0.00" font-size="6.15" text-anchor="middle" font-weight="normal" font-style="normal" fill="#1c1c1c" stroke="#1c1c1c" stroke-width="0.12" transform="translate(467.4,92.8) rotate(-90)">F1_score</text>
<line x1="263.60" y1="337.80" x2="444.95" y2="337.80" stroke="#dadada" stroke-width="0.6" stroke-dasharray="2.2 1.0"/>
<line x1="263.60" y1="323.21" x2="444.95" y2="323.21" stroke="#dadada" stroke-width="0.6" stroke-dasharray="2.2 1.0"/>
<line x1="263.60" y1="308.62" x2="444.95" y2="308.62" stroke="#dadada" stroke-width="0.6" stroke-dasharray="2.2 1.0"/>
<line x1="263.60" y1="294.04" x2="444.95" y2="294.04" stroke="#dadada" stroke-width="0.6" stroke-dasharray="2.2 1.0"/>
<line x1="263.60" y1="279.45" x2="444.95" y2="279.45" stroke="#dadada" stroke-width="0.6" stroke-dasharray="2.2 1.0"/>
<line x1="263.60" y1="264.86" x2="444.95" y2="264.86" stroke="#dadada" stroke-width="0.6" stroke-dasharray="2.2 1.0"/>
<line x1="263.60" y1="250.27" x2="444.95" y2="250.27" stroke="#dadada" stroke-width="0.6" stroke-dasharray="2.2 1.0"/>
<line x1="263.60" y1="235.68" x2="444.95" y2="235.68" stroke="#dadada" stroke-width="0.6" stroke-dasharray="2.2 1.0"/>
<line x1="263.60" y1="221.10" x2="444.95" y2="221.10" stroke="#dadada" stroke-width="0.6" stroke-dasharray="2.2 1.0"/>
<rect x="272.30" y="284.30" width="42.60" height="56.95" fill="#817d82" fill-opacity="0.8" stroke="#8a8a8a" stroke-width="0.6"/>
<rect x="333.10" y="279.00" width="42.60" height="62.25" fill="#e1a6a9" fill-opacity="0.8" stroke="#8a8a8a" stroke-width="0.6"/>
<rect x="394.10" y="275.20" width="42.60" height="66.05" fill="#afc4d6" fill-opacity="0.8" stroke="#8a8a8a" stroke-width="0.6"/>
<line x1="293.60" y1="250.40" x2="293.60" y2="325.20" stroke="#7c7c7c" stroke-width="0.7"/>
<line x1="290.20" y1="250.50" x2="297.00" y2="250.50" stroke="#8e8e8e" stroke-width="0.85"/>
<line x1="290.20" y1="325.50" x2="297.00" y2="325.50" stroke="#8e8e8e" stroke-width="0.85"/>
<line x1="354.40" y1="234.90" x2="354.40" y2="333.00" stroke="#7c7c7c" stroke-width="0.7"/>
<line x1="351.00" y1="234.50" x2="357.80" y2="234.50" stroke="#8e8e8e" stroke-width="0.85"/>
<line x1="351.00" y1="332.50" x2="357.80" y2="332.50" stroke="#8e8e8e" stroke-width="0.85"/>
<line x1="415.40" y1="225.10" x2="415.40" y2="337.70" stroke="#7c7c7c" stroke-width="0.7"/>
<line x1="412.00" y1="225.50" x2="418.80" y2="225.50" stroke="#8e8e8e" stroke-width="0.85"/>
<line x1="412.00" y1="337.50" x2="418.80" y2="337.50" stroke="#8e8e8e" stroke-width="0.85"/>
<line x1="293.30" y1="212.30" x2="415.20" y2="212.30" stroke="#8fb0c9" stroke-width="1.0"/>
<text x="353.35" y="210.00" font-size="6.0" text-anchor="middle" font-weight="normal" font-style="normal" fill="#1c1c1c" stroke="#1c1c1c" stroke-width="0.12">P=0.776</text>
<line x1="354.20" y1="222.20" x2="415.20" y2="222.20" stroke="#8fb0c9" stroke-width="1.0"/>
<text x="383.80" y="219.90" font-size="6.0" text-anchor="middle" font-weight="normal" font-style="normal" fill="#1c1c1c" stroke="#1c1c1c" stroke-width="0.12">P=0.940</text>
<line x1="293.30" y1="232.10" x2="354.20" y2="232.10" stroke="#8fb0c9" stroke-width="1.0"/>
<text x="322.85" y="229.80" font-size="6.0" text-anchor="middle" font-weight="normal" font-style="normal" fill="#1c1c1c" stroke="#1c1c1c" stroke-width="0.12">P=0.016</text>
<path d="M263.60 203.00 H444.95 V341.25 H263.60 Z" fill="none" stroke="#6e6e6e" stroke-width="1.0"/>
<line x1="261.80" y1="337.80" x2="263.60" y2="337.80" stroke="#6e6e6e" stroke-width="0.8"/>
<text x="0.00" y="0.00" font-size="6.15" text-anchor="end" font-weight="normal" font-style="normal" fill="#1c1c1c" stroke="#1c1c1c" stroke-width="0.12" transform="translate(259.60,340.80) scale(1,1.12)">0.84</text>
<line x1="261.80" y1="323.21" x2="263.60" y2="323.21" stroke="#6e6e6e" stroke-width="0.8"/>
<text x="0.00" y="0.00" font-size="6.15" text-anchor="end" font-weight="normal" font-style="normal" fill="#1c1c1c" stroke="#1c1c1c" stroke-width="0.12" transform="translate(259.60,326.21) scale(1,1.12)">0.86</text>
<line x1="261.80" y1="308.62" x2="263.60" y2="308.62" stroke="#6e6e6e" stroke-width="0.8"/>
<text x="0.00" y="0.00" font-size="6.15" text-anchor="end" font-weight="normal" font-style="normal" fill="#1c1c1c" stroke="#1c1c1c" stroke-width="0.12" transform="translate(259.60,311.62) scale(1,1.12)">0.88</text>
<line x1="261.80" y1="294.04" x2="263.60" y2="294.04" stroke="#6e6e6e" stroke-width="0.8"/>
<text x="0.00" y="0.00" font-size="6.15" text-anchor="end" font-weight="normal" font-style="normal" fill="#1c1c1c" stroke="#1c1c1c" stroke-width="0.12" transform="translate(259.60,297.04) scale(1,1.12)">0.90</text>
<line x1="261.80" y1="279.45" x2="263.60" y2="279.45" stroke="#6e6e6e" stroke-width="0.8"/>
<text x="0.00" y="0.00" font-size="6.15" text-anchor="end" font-weight="normal" font-style="normal" fill="#1c1c1c" stroke="#1c1c1c" stroke-width="0.12" transform="translate(259.60,282.45) scale(1,1.12)">0.92</text>
<line x1="261.80" y1="264.86" x2="263.60" y2="264.86" stroke="#6e6e6e" stroke-width="0.8"/>
<text x="0.00" y="0.00" font-size="6.15" text-anchor="end" font-weight="normal" font-style="normal" fill="#1c1c1c" stroke="#1c1c1c" stroke-width="0.12" transform="translate(259.60,267.86) scale(1,1.12)">0.94</text>
<line x1="261.80" y1="250.27" x2="263.60" y2="250.27" stroke="#6e6e6e" stroke-width="0.8"/>
<text x="0.00" y="0.00" font-size="6.15" text-anchor="end" font-weight="normal" font-style="normal" fill="#1c1c1c" stroke="#1c1c1c" stroke-width="0.12" transform="translate(259.60,253.27) scale(1,1.12)">0.96</text>
<line x1="261.80" y1="235.68" x2="263.60" y2="235.68" stroke="#6e6e6e" stroke-width="0.8"/>
<text x="0.00" y="0.00" font-size="6.15" text-anchor="end" font-weight="normal" font-style="normal" fill="#1c1c1c" stroke="#1c1c1c" stroke-width="0.12" transform="translate(259.60,238.68) scale(1,1.12)">0.98</text>
<line x1="261.80" y1="221.10" x2="263.60" y2="221.10" stroke="#6e6e6e" stroke-width="0.8"/>
<text x="0.00" y="0.00" font-size="6.15" text-anchor="end" font-weight="normal" font-style="normal" fill="#1c1c1c" stroke="#1c1c1c" stroke-width="0.12" transform="translate(259.60,224.10) scale(1,1.12)">1.00</text>
<line x1="293.60" y1="341.25" x2="293.60" y2="342.65" stroke="#6e6e6e" stroke-width="0.8"/>
<text x="292.60" y="348.25" font-size="6.15" text-anchor="middle" font-weight="normal" font-style="normal" fill="#1c1c1c" stroke="#1c1c1c" stroke-width="0.12">Only Image</text>
<line x1="354.40" y1="341.25" x2="354.40" y2="342.65" stroke="#6e6e6e" stroke-width="0.8"/>
<text x="353.80" y="348.25" font-size="6.15" text-anchor="middle" font-weight="normal" font-style="normal" fill="#1c1c1c" stroke="#1c1c1c" stroke-width="0.12">UMORSS</text>
<line x1="415.40" y1="341.25" x2="415.40" y2="342.65" stroke="#6e6e6e" stroke-width="0.8"/>
<text x="413.90" y="348.25" font-size="6.15" text-anchor="middle" font-weight="normal" font-style="normal" fill="#1c1c1c" stroke="#1c1c1c" stroke-width="0.12">High Reliability</text>
<text x="0.00" y="0.00" font-size="6.15" text-anchor="middle" font-weight="normal" font-style="normal" fill="#1c1c1c" stroke="#1c1c1c" stroke-width="0.12" transform="translate(245.4,271.9) rotate(-90)">AUROC</text>
<line x1="486.50" y1="329.00" x2="672.95" y2="329.00" stroke="#dadada" stroke-width="0.6" stroke-dasharray="2.2 1.0"/>
<line x1="486.50" y1="316.75" x2="672.95" y2="316.75" stroke="#dadada" stroke-width="0.6" stroke-dasharray="2.2 1.0"/>
<line x1="486.50" y1="304.50" x2="672.95" y2="304.50" stroke="#dadada" stroke-width="0.6" stroke-dasharray="2.2 1.0"/>
<line x1="486.50" y1="292.25" x2="672.95" y2="292.25" stroke="#dadada" stroke-width="0.6" stroke-dasharray="2.2 1.0"/>
<line x1="486.50" y1="280.00" x2="672.95" y2="280.00" stroke="#dadada" stroke-width="0.6" stroke-dasharray="2.2 1.0"/>
<line x1="486.50" y1="267.75" x2="672.95" y2="267.75" stroke="#dadada" stroke-width="0.6" stroke-dasharray="2.2 1.0"/>
<line x1="486.50" y1="255.50" x2="672.95" y2="255.50" stroke="#dadada" stroke-width="0.6" stroke-dasharray="2.2 1.0"/>
<line x1="486.50" y1="243.25" x2="672.95" y2="243.25" stroke="#dadada" stroke-width="0.6" stroke-dasharray="2.2 1.0"/>
<line x1="486.50" y1="231.00" x2="672.95" y2="231.00" stroke="#dadada" stroke-width="0.6" stroke-dasharray="2.2 1.0"/>
<line x1="486.50" y1="218.75" x2="672.95" y2="218.75" stroke="#dadada" stroke-width="0.6" stroke-dasharray="2.2 1.0"/>
<line x1="486.50" y1="206.50" x2="672.95" y2="206.50" stroke="#dadada" stroke-width="0.6" stroke-dasharray="2.2 1.0"/>
<rect x="494.55" y="306.25" width="44.30" height="35.00" fill="#817d82" fill-opacity="0.8" stroke="#8a8a8a" stroke-width="0.6"/>
<rect x="557.45" y="292.25" width="44.30" height="49.00" fill="#e1a6a9" fill-opacity="0.8" stroke="#8a8a8a" stroke-width="0.6"/>
<rect x="620.25" y="250.25" width="44.30" height="91.00" fill="#afc4d6" fill-opacity="0.8" stroke="#8a8a8a" stroke-width="0.6"/>
<line x1="516.70" y1="282.50" x2="516.70" y2="332.50" stroke="#7c7c7c" stroke-width="0.7"/>
<line x1="513.30" y1="282.50" x2="520.10" y2="282.50" stroke="#8e8e8e" stroke-width="0.85"/>
<line x1="513.30" y1="332.50" x2="520.10" y2="332.50" stroke="#8e8e8e" stroke-width="0.85"/>
<line x1="579.60" y1="266.75" x2="579.60" y2="319.25" stroke="#7c7c7c" stroke-width="0.7"/>
<line x1="576.20" y1="266.50" x2="583.00" y2="266.50" stroke="#8e8e8e" stroke-width="0.85"/>
<line x1="576.20" y1="319.50" x2="583.00" y2="319.50" stroke="#8e8e8e" stroke-width="0.85"/>
<line x1="642.40" y1="220.50" x2="642.40" y2="286.25" stroke="#7c7c7c" stroke-width="0.7"/>
<line x1="639.00" y1="220.50" x2="645.80" y2="220.50" stroke="#8e8e8e" stroke-width="0.85"/>
<line x1="639.00" y1="286.50" x2="645.80" y2="286.50" stroke="#8e8e8e" stroke-width="0.85"/>
<line x1="517.00" y1="211.30" x2="642.50" y2="211.30" stroke="#8fb0c9" stroke-width="1.0"/>
<text x="578.85" y="210.00" font-size="6.6" text-anchor="middle" font-weight="normal" font-style="normal" fill="#1c1c1c" stroke="#1c1c1c" stroke-width="0.12">P=0.006</text>
<line x1="579.60" y1="218.40" x2="642.50" y2="218.40" stroke="#8fb0c9" stroke-width="1.0"/>
<text x="610.15" y="217.10" font-size="6.6" text-anchor="middle" font-weight="normal" font-style="normal" fill="#1c1c1c" stroke="#1c1c1c" stroke-width="0.12">P=0.047</text>
<line x1="517.00" y1="265.10" x2="579.60" y2="265.10" stroke="#8fb0c9" stroke-width="1.0"/>
<text x="547.40" y="263.80" font-size="6.6" text-anchor="middle" font-weight="normal" font-style="normal" fill="#1c1c1c" stroke="#1c1c1c" stroke-width="0.12">P&lt;0.001</text>
<path d="M486.50 203.00 H672.95 V341.25 H486.50 Z" fill="none" stroke="#6e6e6e" stroke-width="1.0"/>
<line x1="484.70" y1="341.25" x2="486.50" y2="341.25" stroke="#6e6e6e" stroke-width="0.8"/>
<text x="0.00" y="0.00" font-size="6.15" text-anchor="end" font-weight="normal" font-style="normal" fill="#1c1c1c" stroke="#1c1c1c" stroke-width="0.12" transform="translate(482.50,344.25) scale(1,1.12)">0.25</text>
<line x1="484.70" y1="329.00" x2="486.50" y2="329.00" stroke="#6e6e6e" stroke-width="0.8"/>
<text x="0.00" y="0.00" font-size="6.15" text-anchor="end" font-weight="normal" font-style="normal" fill="#1c1c1c" stroke="#1c1c1c" stroke-width="0.12" transform="translate(482.50,332.00) scale(1,1.12)">0.30</text>
<line x1="484.70" y1="316.75" x2="486.50" y2="316.75" stroke="#6e6e6e" stroke-width="0.8"/>
<text x="0.00" y="0.00" font-size="6.15" text-anchor="end" font-weight="normal" font-style="normal" fill="#1c1c1c" stroke="#1c1c1c" stroke-width="0.12" transform="translate(482.50,319.75) scale(1,1.12)">0.35</text>
<line x1="484.70" y1="304.50" x2="486.50" y2="304.50" stroke="#6e6e6e" stroke-width="0.8"/>
<text x="0.00" y="0.00" font-size="6.15" text-anchor="end" font-weight="normal" font-style="normal" fill="#1c1c1c" stroke="#1c1c1c" stroke-width="0.12" transform="translate(482.50,307.50) scale(1,1.12)">0.40</text>
<line x1="484.70" y1="292.25" x2="486.50" y2="292.25" stroke="#6e6e6e" stroke-width="0.8"/>
<text x="0.00" y="0.00" font-size="6.15" text-anchor="end" font-weight="normal" font-style="normal" fill="#1c1c1c" stroke="#1c1c1c" stroke-width="0.12" transform="translate(482.50,295.25) scale(1,1.12)">0.45</text>
<line x1="484.70" y1="280.00" x2="486.50" y2="280.00" stroke="#6e6e6e" stroke-width="0.8"/>
<text x="0.00" y="0.00" font-size="6.15" text-anchor="end" font-weight="normal" font-style="normal" fill="#1c1c1c" stroke="#1c1c1c" stroke-width="0.12" transform="translate(482.50,283.00) scale(1,1.12)">0.50</text>
<line x1="484.70" y1="267.75" x2="486.50" y2="267.75" stroke="#6e6e6e" stroke-width="0.8"/>
<text x="0.00" y="0.00" font-size="6.15" text-anchor="end" font-weight="normal" font-style="normal" fill="#1c1c1c" stroke="#1c1c1c" stroke-width="0.12" transform="translate(482.50,270.75) scale(1,1.12)">0.55</text>
<line x1="484.70" y1="255.50" x2="486.50" y2="255.50" stroke="#6e6e6e" stroke-width="0.8"/>
<text x="0.00" y="0.00" font-size="6.15" text-anchor="end" font-weight="normal" font-style="normal" fill="#1c1c1c" stroke="#1c1c1c" stroke-width="0.12" transform="translate(482.50,258.50) scale(1,1.12)">0.60</text>
<line x1="484.70" y1="243.25" x2="486.50" y2="243.25" stroke="#6e6e6e" stroke-width="0.8"/>
<text x="0.00" y="0.00" font-size="6.15" text-anchor="end" font-weight="normal" font-style="normal" fill="#1c1c1c" stroke="#1c1c1c" stroke-width="0.12" transform="translate(482.50,246.25) scale(1,1.12)">0.65</text>
<line x1="484.70" y1="231.00" x2="486.50" y2="231.00" stroke="#6e6e6e" stroke-width="0.8"/>
<text x="0.00" y="0.00" font-size="6.15" text-anchor="end" font-weight="normal" font-style="normal" fill="#1c1c1c" stroke="#1c1c1c" stroke-width="0.12" transform="translate(482.50,234.00) scale(1,1.12)">0.70</text>
<line x1="484.70" y1="218.75" x2="486.50" y2="218.75" stroke="#6e6e6e" stroke-width="0.8"/>
<text x="0.00" y="0.00" font-size="6.15" text-anchor="end" font-weight="normal" font-style="normal" fill="#1c1c1c" stroke="#1c1c1c" stroke-width="0.12" transform="translate(482.50,221.75) scale(1,1.12)">0.75</text>
<line x1="484.70" y1="206.50" x2="486.50" y2="206.50" stroke="#6e6e6e" stroke-width="0.8"/>
<text x="0.00" y="0.00" font-size="6.15" text-anchor="end" font-weight="normal" font-style="normal" fill="#1c1c1c" stroke="#1c1c1c" stroke-width="0.12" transform="translate(482.50,209.50) scale(1,1.12)">0.80</text>
<line x1="516.70" y1="341.25" x2="516.70" y2="342.65" stroke="#6e6e6e" stroke-width="0.8"/>
<text x="517.20" y="348.25" font-size="6.15" text-anchor="middle" font-weight="normal" font-style="normal" fill="#1c1c1c" stroke="#1c1c1c" stroke-width="0.12">Only Image</text>
<line x1="579.60" y1="341.25" x2="579.60" y2="342.65" stroke="#6e6e6e" stroke-width="0.8"/>
<text x="579.90" y="348.25" font-size="6.15" text-anchor="middle" font-weight="normal" font-style="normal" fill="#1c1c1c" stroke="#1c1c1c" stroke-width="0.12">UMORSS</text>
<line x1="642.40" y1="341.25" x2="642.40" y2="342.65" stroke="#6e6e6e" stroke-width="0.8"/>
<text x="642.80" y="348.25" font-size="6.15" text-anchor="middle" font-weight="normal" font-style="normal" fill="#1c1c1c" stroke="#1c1c1c" stroke-width="0.12">High Reliability</text>
<text x="0.00" y="0.00" font-size="6.15" text-anchor="middle" font-weight="normal" font-style="normal" fill="#1c1c1c" stroke="#1c1c1c" stroke-width="0.12" transform="translate(467.4,273.3) rotate(-90)">F1_score</text>
<text x="9.70" y="25.00" font-size="13" text-anchor="start" font-weight="bold" font-style="normal" fill="#000" stroke="#000" stroke-width="0.12">a</text>
<text x="234.00" y="25.00" font-size="13" text-anchor="start" font-weight="bold" font-style="normal" fill="#000" stroke="#000" stroke-width="0.12">b</text>
<text x="458.40" y="25.10" font-size="13" text-anchor="start" font-weight="bold" font-style="normal" fill="#000" stroke="#000" stroke-width="0.12">c</text>
<text x="11.30" y="204.80" font-size="13" text-anchor="start" font-weight="bold" font-style="normal" fill="#000" stroke="#000" stroke-width="0.12">d</text>
<text x="236.20" y="205.10" font-size="13" text-anchor="start" font-weight="bold" font-style="normal" fill="#000" stroke="#000" stroke-width="0.12">e</text>
<text x="460.90" y="204.80" font-size="13" text-anchor="start" font-weight="bold" font-style="normal" fill="#000" stroke="#000" stroke-width="0.12">f</text>
<text x="676.00" y="15.60" font-size="12" text-anchor="end" font-weight="bold" font-style="italic" fill="#000" stroke="#000" stroke-width="0.12">Internal testing cohort</text>
<text x="676.40" y="195.00" font-size="12" text-anchor="end" font-weight="bold" font-style="italic" fill="#000" stroke="#000" stroke-width="0.12">Multicentre cohort</text>
<line x1="0" y1="180.3" x2="685" y2="180.3" stroke="#666" stroke-width="1.0" stroke-dasharray="4.3 2.348" stroke-dashoffset="2.0"/>
<line x1="0" y1="0.6" x2="685" y2="0.6" stroke="#5a5a5a" stroke-width="1.2" stroke-dasharray="4.3 2.348" stroke-dashoffset="2.0"/>
<line x1="0" y1="359.4" x2="685" y2="359.4" stroke="#5a5a5a" stroke-width="1.2" stroke-dasharray="4.3 2.348" stroke-dashoffset="2.0"/>
<line x1="0.6" y1="0" x2="0.6" y2="360" stroke="#5a5a5a" stroke-width="1.2" stroke-dasharray="4.3 2.348" stroke-dashoffset="2.0"/>
<line x1="684.4" y1="0" x2="684.4" y2="360" stroke="#5a5a5a" stroke-width="1.2" stroke-dasharray="4.3 2.348" stroke-dashoffset="2.0"/>
</svg>
</body></html>
